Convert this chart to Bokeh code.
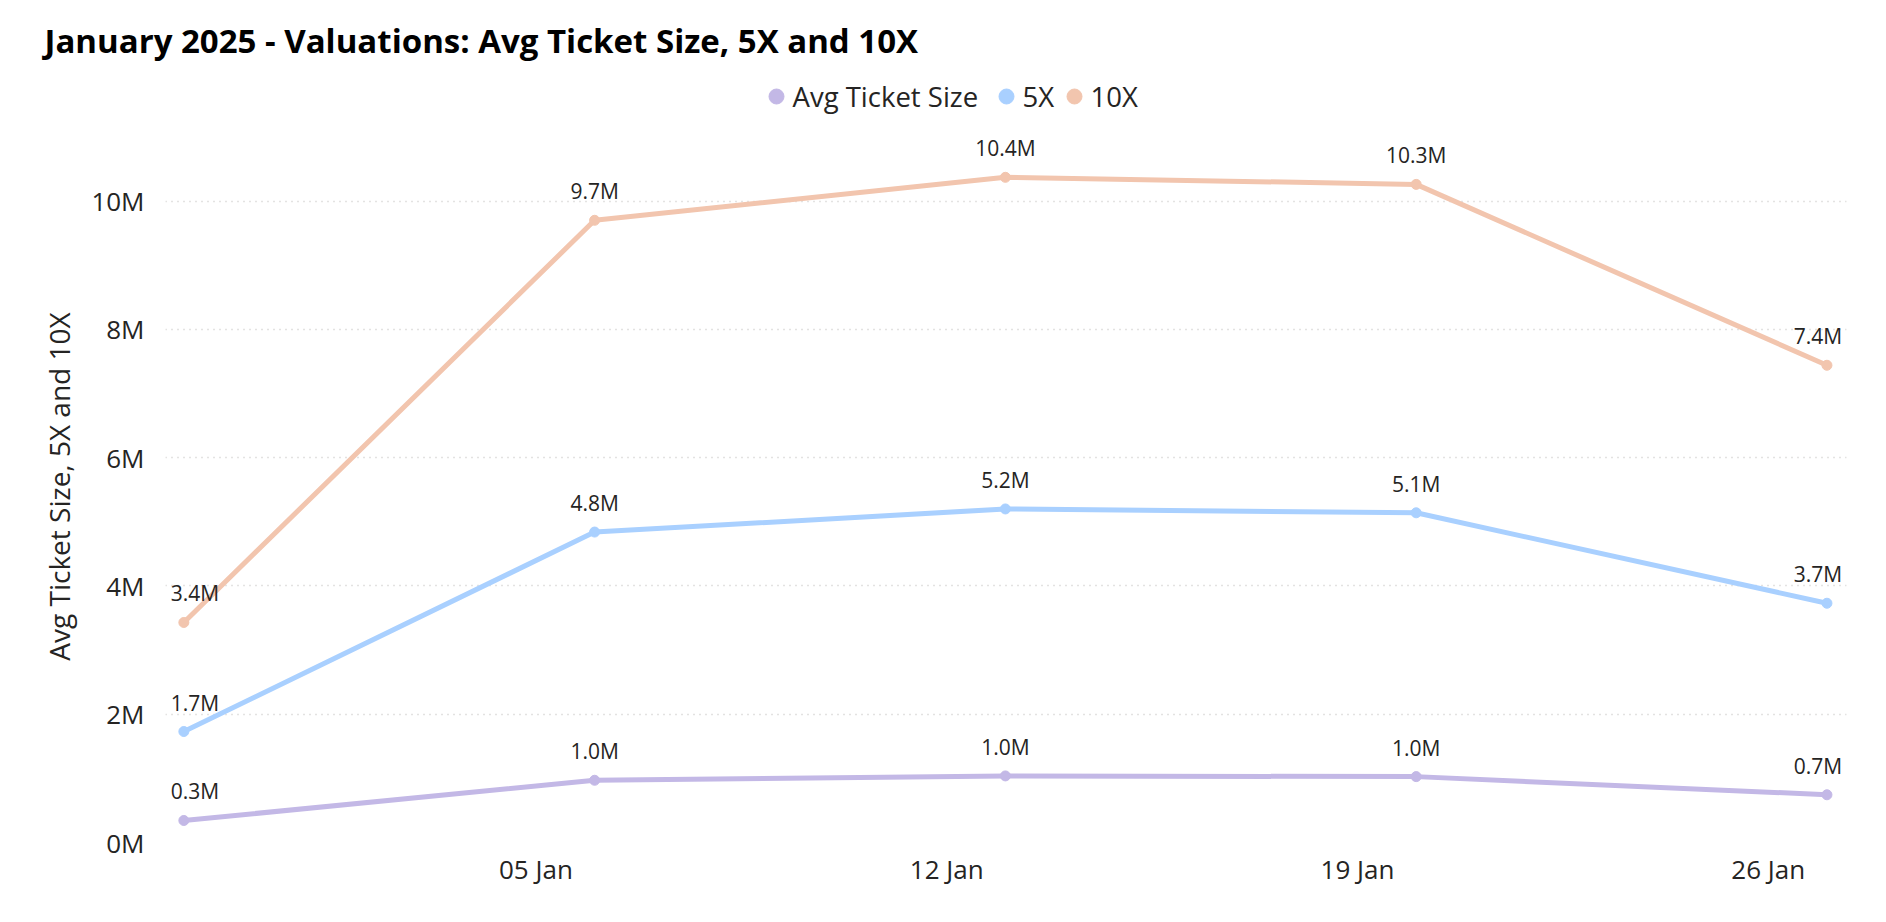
from datetime import datetime, timedelta
from bokeh.plotting import figure
from bokeh.layouts import column
from bokeh.models import (ColumnDataSource, LabelSet, Range1d, FixedTicker,
                          DatetimeTickFormatter, CustomJSTickFormatter)
from bokeh.core.properties import value
from bokeh.embed import file_html
from bokeh.resources import INLINE

# ---- data ----
week_dates = ["2024-12-30", "2025-01-06", "2025-01-13", "2025-01-20", "2025-01-27"]
avg_ticket = [0.343e6, 0.970e6, 1.038e6, 1.027e6, 0.744e6]
val_5x = [1.73e6, 4.84e6, 5.20e6, 5.14e6, 3.73e6]
val_10x = [3.43e6, 9.70e6, 10.37e6, 10.26e6, 7.44e6]
series_names = ["Avg Ticket Size", "5X", "10X"]
tick_dates = ["2025-01-05", "2025-01-12", "2025-01-19", "2025-01-26"]
y_ticks = [0, 2e6, 4e6, 6e6, 8e6, 10e6]
title_text = "January 2025 - Valuations: Avg Ticket Size, 5X and 10X"
y_title = "Avg Ticket Size, 5X and 10X"

colors = ["#C3B8E6", "#A9D0FF", "#F2C5AE"]
FONT = "Open Sans"
TXT = "#252423"
W = 1880
TOP_H = 120
MAIN_H = 788

# ---- header (title + legend) ----
head = figure(width=W, height=TOP_H, output_backend="svg", toolbar_location=None,
              x_range=Range1d(0, W), y_range=Range1d(0, TOP_H),
              x_axis_type=None, y_axis_type=None,
              min_border_left=0, min_border_right=0, min_border_top=0, min_border_bottom=0)
head.frame_align = False
head.outline_line_color = None
head.text(x=[44], y=[TOP_H - 40], text=[title_text], text_font=value(FONT),
          text_font_size="33px", text_font_style="bold", text_color="#000000",
          text_baseline="middle", text_align="left")
leg_x = [776, 1006, 1074]
leg_y = [TOP_H - 96] * 3
head.scatter(x=leg_x, y=leg_y, size=15, fill_color=colors, line_color=colors)
head.text(x=[v + 16 for v in leg_x], y=leg_y, text=series_names, text_font=value(FONT),
          text_font_size="27.5px", text_color=TXT, text_baseline="middle", text_align="left")

# ---- main chart ----
xs = [datetime.fromisoformat(d) for d in week_dates]
p = figure(width=W, height=MAIN_H, output_backend="svg", toolbar_location=None,
           x_axis_type="datetime",
           x_range=Range1d(xs[0] - timedelta(hours=7.5), xs[-1] + timedelta(hours=8)),
           y_range=Range1d(0, 11.1e6),
           min_border_left=165, min_border_right=W - 1846, min_border_top=10,
           min_border_bottom=MAIN_H - 10 - 712)
p.frame_align = False
p.outline_line_color = None

p.xaxis.ticker = FixedTicker(ticks=[datetime.fromisoformat(d).timestamp() * 1000 for d in tick_dates])
p.xaxis.formatter = DatetimeTickFormatter(days="%d %b", months="%d %b", hours="%d %b")
p.yaxis.ticker = FixedTicker(ticks=y_ticks)
p.yaxis.formatter = CustomJSTickFormatter(code="return (tick/1e6).toFixed(0) + 'M';")
for ax in (p.xaxis[0], p.yaxis[0]):
    ax.axis_line_color = None
    ax.major_tick_line_color = None
    ax.minor_tick_line_color = None
    ax.major_label_text_font = FONT
    ax.major_label_text_font_size = "26px"
    ax.major_label_text_color = TXT
p.xaxis.major_label_standoff = 2
p.yaxis.major_label_standoff = 15
p.yaxis.axis_label = y_title
p.yaxis.axis_label_text_font = FONT
p.yaxis.axis_label_text_font_size = "28px"
p.yaxis.axis_label_text_font_style = "normal"
p.yaxis.axis_label_text_color = TXT
p.yaxis.axis_label_standoff = 10

p.xgrid.grid_line_color = None
p.ygrid.grid_line_color = "#C8C6C4"
p.ygrid.grid_line_dash = "1 5"
p.ygrid.grid_line_width = 1.5

nudge = [11, 0, 0, 0, -9]
for name, vals, col in zip(series_names, [avg_ticket, val_5x, val_10x], colors):
    src = ColumnDataSource(dict(x=xs, y=vals,
                                lbl=[f"{v/1e6:.1f}M" for v in vals], dx=nudge))
    p.line("x", "y", source=src, line_color=col, line_width=5)
    p.scatter("x", "y", source=src, size=10, fill_color=col, line_color=col)
    p.add_layout(LabelSet(x="x", y="y", text="lbl", source=src, x_offset="dx", y_offset=21,
                          text_align="center", text_baseline="alphabetic",
                          text_font=value(FONT), text_font_size="21px", text_color=TXT))

layout = column(head, p, spacing=0)
open("out.html", "w").write(file_html(layout, INLINE))
